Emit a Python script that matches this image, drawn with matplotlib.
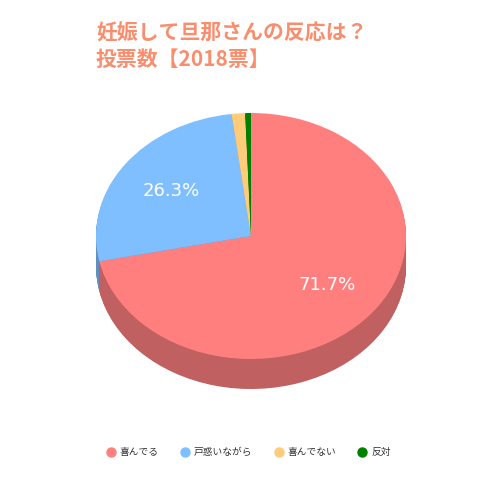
import matplotlib
matplotlib.use('Agg')
import matplotlib.pyplot as plt
from matplotlib.lines import Line2D
import numpy as np

plt.rcParams['font.family'] = ['DejaVu Sans', 'Noto Sans CJK JP']

# Data
labels = ['喜んでる', '戸惑いながら', '喜んでない', '反対']
values = [71.7, 26.3, 1.4, 0.6]
colors = ['#FF7F7F', '#7FBFFF', '#FFCC7A', '#008000']
side_colors = ['#C06060', '#5F8FBF', '#BF995C', '#006000']
title = '妊娠して旦那さんの反応は？\n投票数【2018票】'

fig = plt.figure(figsize=(5, 5), dpi=100)
ax = fig.add_axes([0, 0, 1, 1])

# 3D side: stack of darker pies shifted downward
depth = 30 / 123
for d in np.linspace(depth, 0.01, 40):
    ax.pie(values, colors=side_colors, startangle=90, counterclock=False,
           center=(0, -d), radius=1, wedgeprops=dict(linewidth=0))

# top face
wedges, texts, autotexts = ax.pie(
    values, colors=colors, startangle=90, counterclock=False,
    center=(0, 0), radius=1, wedgeprops=dict(linewidth=0),
    autopct=lambda p: f'{p:.1f}%' if p > 5 else '', pctdistance=0.63,
    textprops=dict(color='white', fontsize=13, family='DejaVu Sans'))

ax.set_aspect('auto')
ax.set_xlim(-251 / 155, 249 / 155)
ax.set_ylim(-264 / 123, 236 / 123)
ax.axis('off')

fig.text(96 / 500, 1 - 23 / 500, title, ha='left', va='top',
         fontsize=15, fontweight='bold', color='#F88E6E',
         family=['Noto Sans CJK JP', 'DejaVu Sans'], linespacing=1.3)

handles = [Line2D([], [], marker='o', linestyle='', markersize=6.5,
                  markerfacecolor=c, markeredgecolor=c) for c in colors]
fig.legend(handles, labels, loc='center', bbox_to_anchor=(0.497, 1 - 452 / 500),
           ncol=4, frameon=False, handlelength=1.0, handletextpad=0.4,
           columnspacing=2.2, labelcolor='#333333',
           prop=dict(family=['Noto Sans CJK JP', 'DejaVu Sans'], size=7))

fig.savefig('out.png', dpi=100)
